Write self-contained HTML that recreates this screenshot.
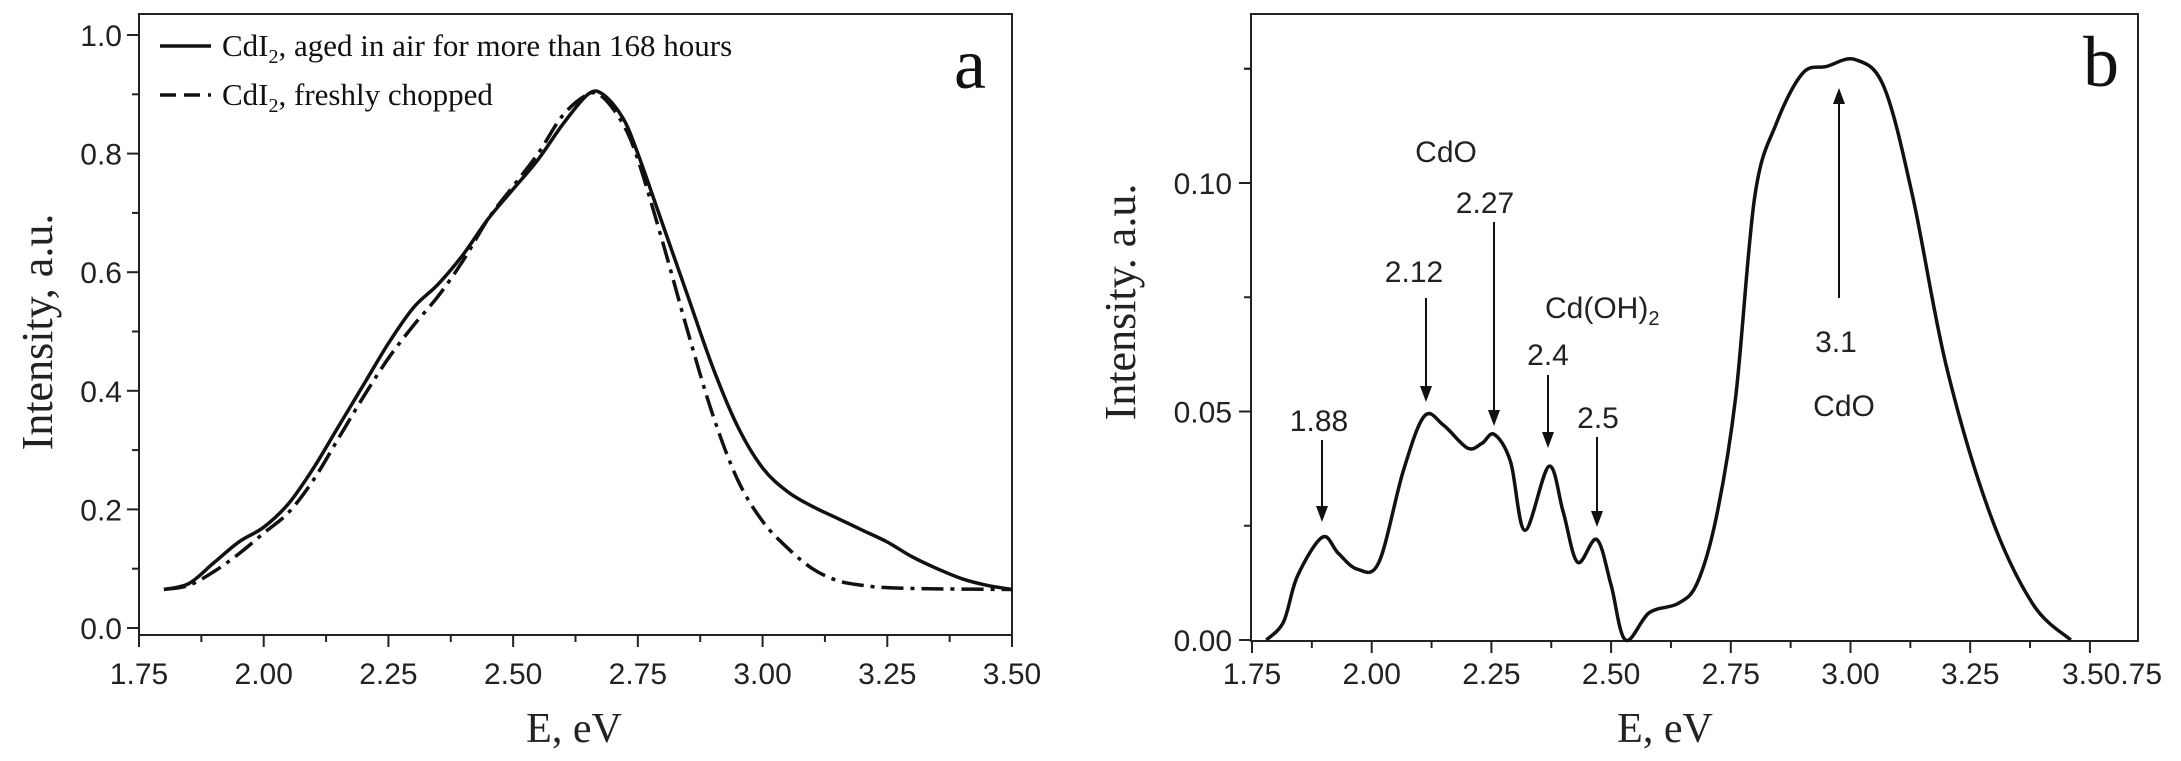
<!DOCTYPE html>
<html><head><meta charset="utf-8"><style>
html,body{margin:0;padding:0;background:#fff;}
svg{display:block;}
.sans{font-family:"Liberation Sans",sans-serif;}
.serif{font-family:"Liberation Serif",serif;}
</style></head><body>
<svg id="chart" width="2181" height="761" viewBox="0 0 2181 761" xmlns="http://www.w3.org/2000/svg">
<g id="pa"></g>
<g id="pb"></g>
</svg>
<script>
// Panel a data
const aX = [1.80,1.85,1.90,1.95,2.00,2.05,2.10,2.15,2.20,2.25,2.30,2.35,2.40,2.45,2.50,2.55,2.60,2.65,2.68,2.72,2.75,2.80,2.85,2.90,2.95,3.00,3.05,3.10,3.15,3.20,3.25,3.30,3.35,3.40,3.45,3.50];
const aAged = [0.065,0.075,0.11,0.145,0.17,0.21,0.27,0.34,0.41,0.48,0.54,0.58,0.63,0.69,0.74,0.79,0.85,0.90,0.90,0.86,0.80,0.68,0.56,0.44,0.34,0.27,0.23,0.205,0.185,0.165,0.145,0.12,0.10,0.083,0.072,0.065];
const aFreshX = [1.80,1.85,1.90,1.95,2.00,2.05,2.10,2.15,2.20,2.25,2.30,2.35,2.40,2.45,2.50,2.55,2.60,2.65,2.68,2.72,2.75,2.80,2.85,2.90,2.95,3.00,3.05,3.10,3.15,3.20,3.25,3.35,3.50];
const aFresh = [0.065,0.072,0.095,0.125,0.16,0.195,0.25,0.32,0.39,0.455,0.51,0.56,0.62,0.69,0.745,0.80,0.865,0.90,0.895,0.85,0.79,0.65,0.50,0.36,0.25,0.18,0.135,0.10,0.08,0.072,0.068,0.066,0.065];
const aXTicks = ["1.75","2.00","2.25","2.50","2.75","3.00","3.25","3.50"];
const aYTicks = ["0.0","0.2","0.4","0.6","0.8","1.0"];
// Panel b data
const bX = [1.78,1.816,1.845,1.897,1.93,1.97,2.015,2.066,2.11,2.15,2.20,2.23,2.256,2.29,2.32,2.37,2.40,2.43,2.47,2.50,2.53,2.58,2.64,2.68,2.72,2.76,2.80,2.845,2.90,2.95,3.01,3.07,3.13,3.20,3.29,3.38,3.46];
const bY = [0,0.004,0.014,0.0225,0.019,0.0155,0.017,0.037,0.049,0.047,0.042,0.043,0.045,0.039,0.024,0.038,0.028,0.017,0.022,0.012,0,0.006,0.008,0.0125,0.027,0.053,0.097,0.113,0.124,0.1255,0.127,0.121,0.097,0.06,0.028,0.008,0];
const bXTicks = ["1.75","2.00","2.25","2.50","2.75","3.00","3.25"];
const bYTicks = ["0.00","0.05","0.10"];

const NS="http://www.w3.org/2000/svg";
function mk(parent,tag,attrs,text){const e=document.createElementNS(NS,tag);for(const k in attrs)e.setAttribute(k,attrs[k]);if(text!==undefined)e.textContent=text;parent.appendChild(e);return e;}
function smooth(pts){let d="M"+pts[0][0]+","+pts[0][1];for(let i=0;i<pts.length-1;i++){const p0=pts[i-1]||pts[i],p1=pts[i],p2=pts[i+1],p3=pts[i+2]||p2;const c1x=p1[0]+(p2[0]-p0[0])/6,c1y=p1[1]+(p2[1]-p0[1])/6,c2x=p2[0]-(p3[0]-p1[0])/6,c2y=p2[1]-(p3[1]-p1[1])/6;d+=` C${c1x},${c1y} ${c2x},${c2y} ${p2[0]},${p2[1]}`;}return d;}

// ---------- Panel a ----------
(function(){
const g=document.getElementById('pa');
const L=139,R=1012,T=14,B=635;
const xa=v=>L+(v-1.75)/(3.5-1.75)*(R-L);
const ya=v=>628-(v)*(628-35);
const frame=mk(g,'rect',{x:L,y:T,width:R-L,height:B-T,fill:'none',stroke:'#222','stroke-width':2});


aXTicks.forEach((t,i)=>{const v=1.75+0.25*i;const x=xa(v);
 const tk=mk(g,'line',{x1:x,y1:B,x2:x,y2:B+12,stroke:'#222','stroke-width':2});
 
 
 if(i<aXTicks.length-1){const m=xa(v+0.125);mk(g,'line',{x1:m,y1:B,x2:m,y2:B+7,stroke:'#222','stroke-width':2});}
 const lb=mk(g,'text',{x:x,y:684,'text-anchor':'middle','font-size':30,class:'sans',fill:'#222'},t);
 
 
});
aYTicks.forEach((t,i)=>{const v=0.2*i;const y=ya(v);
 const tk=mk(g,'line',{x1:L-12,y1:y,x2:L,y2:y,stroke:'#222','stroke-width':2});
 
 
 if(i<aYTicks.length-1){const m=ya(v+0.1);mk(g,'line',{x1:L-7,y1:m,x2:L,y2:m,stroke:'#222','stroke-width':2});}
 const lb=mk(g,'text',{x:122,y:y+11,'text-anchor':'end','font-size':30,class:'sans',fill:'#222'},t);
 
 
});
const p1=mk(g,'path',{d:smooth(aX.map((v,i)=>[xa(v),ya(aAged[i])])),fill:'none',stroke:'#111','stroke-width':3.5});


const p2=mk(g,'path',{d:smooth(aFreshX.map((v,i)=>[xa(v),ya(aFresh[i])])),fill:'none',stroke:'#111','stroke-width':3.5,'stroke-dasharray':'22,7,4,7'});


})();

// ---------- Panel b ----------
(function(){
const g=document.getElementById('pb');
const L=1251,R=2138,T=14,B=641;
const xb=v=>1252+(v-1.75)/0.25*119.7;
const yb=v=>640-v/0.1*457;
const frame=mk(g,'rect',{x:L,y:T,width:R-L,height:B-T,fill:'none',stroke:'#222','stroke-width':2});


for(let i=0;i<=8;i++){const v=1.75+0.25*i;const x=xb(v);if(x>R+1)break;
 mk(g,'line',{x1:x,y1:B,x2:x,y2:B+12,stroke:'#222','stroke-width':2});
 const m=xb(v+0.125);if(m<R)mk(g,'line',{x1:m,y1:B,x2:m,y2:B+7,stroke:'#222','stroke-width':2});}
bXTicks.forEach((t,i)=>{const x=xb(1.75+0.25*i);
 const lb=mk(g,'text',{x:x,y:684,'text-anchor':'middle','font-size':30,class:'sans',fill:'#222'},t);
 
 
});
const lb2=mk(g,'text',{x:2112,y:684,'text-anchor':'middle','font-size':30,class:'sans',fill:'#222'},'3.50.75');


bYTicks.forEach((t,i)=>{const v=0.05*i;const y=yb(v);
 mk(g,'line',{x1:L-12,y1:y,x2:L,y2:y,stroke:'#222','stroke-width':2});
 mk(g,'line',{x1:L-7,y1:yb(v+0.025),x2:L,y2:yb(v+0.025),stroke:'#222','stroke-width':2});
 const lb=mk(g,'text',{x:1232,y:y+11,'text-anchor':'end','font-size':30,class:'sans',fill:'#222'},t);
 
 
});
mk(g,'line',{x1:L-7,y1:yb(0.125),x2:L,y2:yb(0.125),stroke:'#222','stroke-width':2});
const p=mk(g,'path',{d:smooth(bX.map((v,i)=>[xb(v),yb(bY[i])])),fill:'none',stroke:'#111','stroke-width':3.5});


})();
</script>
<script>
const s=document.getElementById('chart');
const st='font-family:"Liberation Sans",sans-serif';
function arrowDown(x,y1,y2){return `<line x1="${x}" y1="${y1}" x2="${x}" y2="${y2-12}" stroke="#111" stroke-width="2"/><polygon points="${x-6},${y2-16} ${x+6},${y2-16} ${x},${y2}" fill="#111"/>`;}
function arrowUp(x,y1,y2){return `<line x1="${x}" y1="${y1}" x2="${x}" y2="${y2+12}" stroke="#111" stroke-width="2"/><polygon points="${x-6},${y2+16} ${x+6},${y2+16} ${x},${y2}" fill="#111"/>`;}
s.insertAdjacentHTML('beforeend',`
<g class="serif" font-size="31" fill="#111">
 <line x1="160" y1="46" x2="211" y2="46" stroke="#111" stroke-width="3.5"/>
 <text x="222" y="56">CdI<tspan font-size="20" dy="7">2</tspan><tspan dy="-7">, aged in air for more than 168 hours</tspan></text>
 <line x1="160" y1="95" x2="211" y2="95" stroke="#111" stroke-width="3.5" stroke-dasharray="16,8"/>
 <text x="222" y="105">CdI<tspan font-size="20" dy="7">2</tspan><tspan dy="-7">, freshly chopped</tspan></text>
</g>
<text x="970" y="88" text-anchor="middle" class="serif" font-size="72" fill="#111">a</text>
<text x="2101" y="86" text-anchor="middle" class="serif" font-size="72" fill="#111">b</text>
<text transform="translate(52,332) rotate(-90)" text-anchor="middle" class="serif" font-size="44" fill="#222">Intensity, a.u.</text>
<text transform="translate(1135,302) rotate(-90)" text-anchor="middle" class="serif" font-size="44" fill="#222">Intensity. a.u.</text>
<text x="574" y="742" text-anchor="middle" class="serif" font-size="42" fill="#222">E, eV</text>
<text x="1665" y="742" text-anchor="middle" class="serif" font-size="42" fill="#222">E, eV</text>
<g style='${st}' font-size="30" fill="#222" text-anchor="middle">
 <text x="1446" y="162">CdO</text>
 <text x="1485" y="213">2.27</text>
 <text x="1414" y="282">2.12</text>
 <text x="1545" y="318" text-anchor="start">Cd(OH)<tspan font-size="20" dy="7">2</tspan></text>
 <text x="1548" y="365">2.4</text>
 <text x="1319" y="431">1.88</text>
 <text x="1598" y="428">2.5</text>
 <text x="1836" y="352">3.1</text>
 <text x="1844" y="416">CdO</text>
</g>
<g>
 ${arrowDown(1494,222,426)}
 ${arrowDown(1426,298,402)}
 ${arrowDown(1548,375,448)}
 ${arrowDown(1322,440,522)}
 ${arrowDown(1597,437,527)}
 ${arrowUp(1839,298,88)}
</g>`);
</script>
</body></html>
